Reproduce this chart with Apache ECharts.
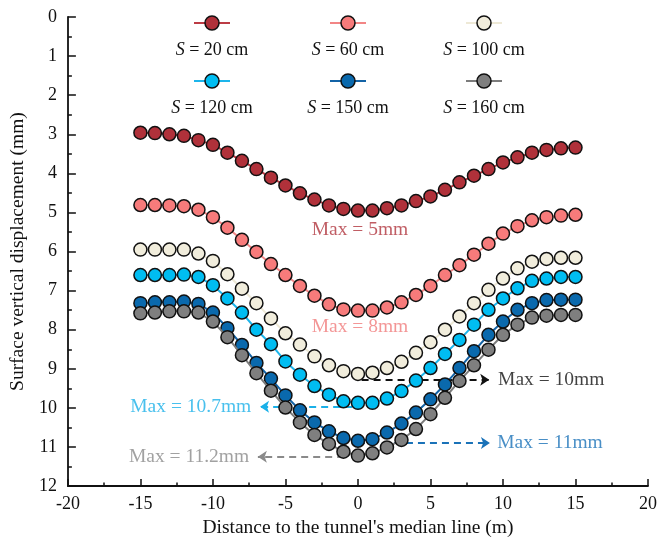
<!DOCTYPE html>
<html>
<head>
<meta charset="utf-8">
<script src="https://cdn.jsdelivr.net/npm/echarts@6/dist/echarts.min.js"></script>
<style>
  html, body { margin: 0; padding: 0; background: #fff; }
  #chart { width: 660px; height: 543px; }
</style>
</head>
<body>
<div id="chart"></div>
<script>
// Horizontal distance from the tunnel's median line (m)
const distances = [-15, -14, -13, -12, -11, -10, -9, -8, -7, -6, -5, -4, -3, -2, -1, 0,
                   1, 2, 3, 4, 5, 6, 7, 8, 9, 10, 11, 12, 13, 14, 15];

// Surface settlement (mm) for each excavation step S
const seriesNames = ['S = 20 cm', 'S = 60 cm', 'S = 100 cm', 'S = 120 cm', 'S = 150 cm', 'S = 160 cm'];
const s20 = [2.96, 2.97, 3.00, 3.04, 3.15, 3.27, 3.47, 3.68, 3.89, 4.11, 4.31, 4.51, 4.67, 4.82, 4.91, 4.95,
             4.95, 4.89, 4.82, 4.71, 4.59, 4.42, 4.23, 4.06, 3.89, 3.72, 3.59, 3.47, 3.40, 3.36, 3.34];
const s60 = [4.81, 4.81, 4.82, 4.84, 4.93, 5.12, 5.39, 5.70, 6.01, 6.32, 6.60, 6.88, 7.13, 7.35, 7.48, 7.51,
             7.51, 7.43, 7.30, 7.11, 6.88, 6.60, 6.35, 6.08, 5.80, 5.54, 5.35, 5.20, 5.12, 5.08, 5.06];
const s100 = [5.95, 5.95, 5.95, 5.95, 6.05, 6.24, 6.58, 6.95, 7.32, 7.71, 8.09, 8.38, 8.68, 8.91, 9.06, 9.13,
              9.10, 8.98, 8.82, 8.59, 8.32, 8.00, 7.66, 7.32, 6.98, 6.69, 6.43, 6.26, 6.19, 6.16, 6.16];
const s120 = [6.60, 6.60, 6.60, 6.59, 6.65, 6.86, 7.20, 7.56, 8.00, 8.37, 8.81, 9.15, 9.44, 9.66, 9.83, 9.87,
              9.87, 9.76, 9.57, 9.30, 8.98, 8.62, 8.26, 7.87, 7.49, 7.20, 6.94, 6.75, 6.69, 6.65, 6.65];
const s150 = [7.32, 7.30, 7.30, 7.28, 7.34, 7.56, 7.96, 8.39, 8.85, 9.25, 9.68, 10.06, 10.37, 10.60, 10.77, 10.84,
              10.80, 10.63, 10.40, 10.12, 9.78, 9.40, 8.98, 8.55, 8.13, 7.79, 7.49, 7.32, 7.24, 7.23, 7.23];
const s160 = [7.58, 7.56, 7.53, 7.53, 7.56, 7.79, 8.19, 8.65, 9.11, 9.56, 9.99, 10.37, 10.69, 10.92, 11.12, 11.22,
              11.16, 11.01, 10.82, 10.54, 10.16, 9.74, 9.31, 8.91, 8.51, 8.13, 7.87, 7.69, 7.64, 7.62, 7.62];
const settlements = [s20, s60, s100, s120, s150, s160];

// Maximum settlement callouts
const maxLabels = ['Max = 5mm', 'Max = 8mm', 'Max = 10mm', 'Max = 10.7mm', 'Max = 11mm', 'Max = 11.2mm'];

const FONT = "'Times New Roman', 'Liberation Serif', serif";
const fillColors = ['#B0313A', '#F77B7B', '#F1EDDC', '#00BDF2', '#0A69AD', '#7F7F7F'];
const lineColors = ['#BC3C45', '#F28585', '#EEE9D6', '#1DB5EB', '#1363A6', '#7C7C7C'];
const noteColors = ['#B0353D', '#F07C7C', '#111111', '#1AB0E8', '#1A72B8', '#8A8A8A'];

const chart = echarts.init(document.getElementById('chart'), null, { renderer: 'canvas' });

// Settlement curves
const curveSeries = seriesNames.map((name, i) => ({
  name: name,
  type: 'line',
  data: distances.map((d, k) => [d, settlements[i][k]]),
  symbol: 'circle',
  symbolSize: 13,
  showAllSymbol: true,
  itemStyle: { color: fillColors[i], borderColor: '#111', borderWidth: 1.5 },
  lineStyle: { color: lineColors[i], width: 2 },
  z: 2 + i
}));

// Callout placement: anchor in axis units and which side the text sits on
const notePlacement = [
  { at: [0.14, 5.44], side: 'inside' },
  { at: [0.14, 7.93], side: 'inside' },
  { at: [9.66, 9.28], side: 'right' },
  { at: [-7.36, 9.97], side: 'left' },
  { at: [9.6, 10.9], side: 'right' },
  { at: [-7.5, 11.25], side: 'left' }
];
// Dashed arrows from the trough to the callouts (label index, start, end)
const arrows = [
  { idx: 2, from: [0.25, 9.28], to: [9.05, 9.28] },
  { idx: 3, from: [-0.4, 9.97], to: [-6.75, 9.97] },
  { idx: 4, from: [0.0, 10.9], to: [9.1, 10.9] },
  { idx: 5, from: [-0.95, 11.25], to: [-6.9, 11.25] }
];

const noteSeries = {
  name: 'notes',
  type: 'scatter',
  symbolSize: 0,
  silent: true,
  z: 20,
  data: maxLabels.map((txt, i) => ({
    value: notePlacement[i].at,
    label: {
      show: true,
      formatter: txt,
      position: notePlacement[i].side,
      distance: 0,
      color: noteColors[i],
      fontFamily: FONT,
      fontSize: 19.5
    }
  })),
  markLine: {
    silent: true,
    symbol: ['none', 'arrow'],
    symbolSize: 9,
    label: { show: false },
    emphasis: { disabled: true },
    data: arrows.map(a => [
      { coord: a.from, lineStyle: { color: noteColors[a.idx], width: 2, type: [7, 5] }, itemStyle: { color: noteColors[a.idx] } },
      { coord: a.to }
    ])
  }
};

// Legend: marker above its caption, three columns by two rows
const legendCols = [212, 348, 484];
const legendIconRows = [23, 81];
const legendTextRows = [50, 108];
const legendGraphics = seriesNames.map((name, i) => {
  const cx = legendCols[i % 3];
  const row = Math.floor(i / 3);
  const cy = legendIconRows[row];
  return {
    type: 'group',
    children: [
      { type: 'line', shape: { x1: cx - 18, y1: cy, x2: cx + 18, y2: cy },
        style: { stroke: lineColors[i], lineWidth: 2 } },
      { type: 'circle', shape: { cx: cx, cy: cy, r: 7 },
        style: { fill: fillColors[i], stroke: '#111', lineWidth: 1.5 } },
      { type: 'text', x: cx, y: legendTextRows[row],
        style: {
          text: '{i|S} = ' + name.replace('S = ', ''),
          align: 'center', verticalAlign: 'middle',
          fontFamily: FONT, fontSize: 18, fill: '#111',
          rich: { i: { fontStyle: 'italic', fontFamily: FONT, fontSize: 18, fill: '#111' } }
        } }
    ]
  };
});

const axisText = { color: '#111', fontFamily: FONT, fontSize: 18 };

chart.setOption({
  animation: false,
  backgroundColor: '#fff',
  grid: { left: 57, right: 10, top: 17, bottom: 55 },
  xAxis: {
    type: 'value',
    min: -20, max: 20, interval: 5,
    name: "Distance to the tunnel's median line (m)",
    nameLocation: 'middle',
    nameGap: 24,
    nameTextStyle: { color: '#111', fontFamily: FONT, fontSize: 19.5 },
    axisLine: { show: true, onZero: false, lineStyle: { color: '#111', width: 1.8 } },
    axisTick: { show: true, inside: true, length: 7, lineStyle: { color: '#111', width: 1.5 } },
    minorTick: { show: true, splitNumber: 2, length: 3.5, lineStyle: { color: '#111', width: 1.5 } },
    axisLabel: Object.assign({ margin: 9 }, axisText),
    splitLine: { show: false }
  },
  yAxis: {
    type: 'value',
    inverse: true,
    min: 0, max: 12, interval: 1,
    name: 'Surface vertical displacement (mm)',
    nameLocation: 'middle',
    nameGap: 28,
    nameRotate: 90,
    nameTextStyle: { color: '#111', fontFamily: FONT, fontSize: 19.5 },
    axisLine: { show: true, onZero: false, lineStyle: { color: '#111', width: 1.8 } },
    axisTick: { show: true, inside: true, length: 8, lineStyle: { color: '#111', width: 1.5 } },
    minorTick: { show: true, splitNumber: 2, length: 4, lineStyle: { color: '#111', width: 1.5 } },
    axisLabel: Object.assign({ margin: 11 }, axisText),
    splitLine: { show: false }
  },
  graphic: legendGraphics,
  series: curveSeries.concat([noteSeries])
});
</script>
</body>
</html>
